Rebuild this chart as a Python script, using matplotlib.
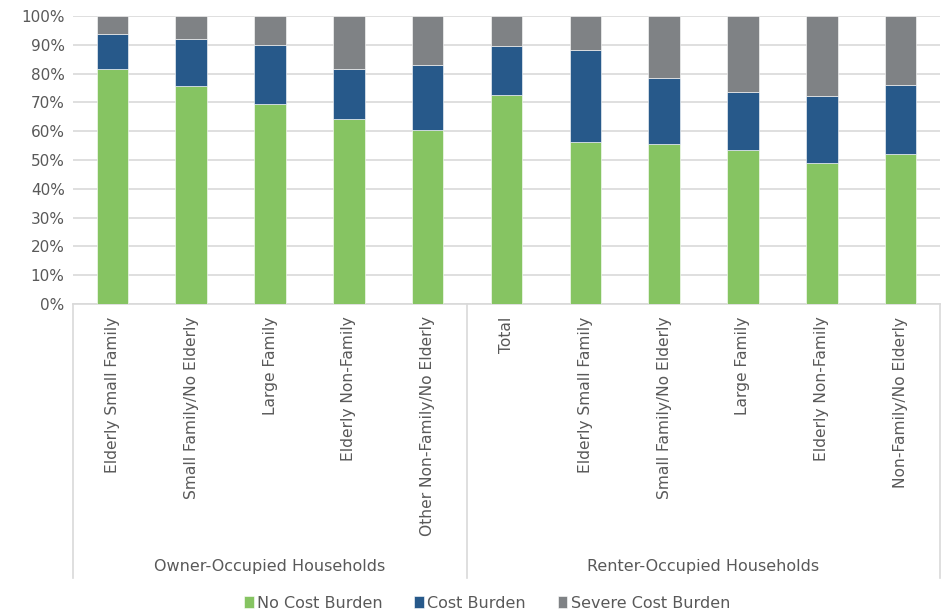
import matplotlib
matplotlib.use("Agg")
import matplotlib.pyplot as plt
import matplotlib.transforms as mtrans
from matplotlib.lines import Line2D
from matplotlib.ticker import FuncFormatter, MultipleLocator
import numpy as np

plt.rcParams["font.family"] = ["DejaVu Sans"]

# --- data ---
categories = [
    "Elderly Small Family", "Small Family/No Elderly", "Large Family",
    "Elderly Non-Family", "Other Non-Family/No Elderly",
    "Total", "Elderly Small Family", "Small Family/No Elderly", "Large Family",
    "Elderly Non-Family", "Non-Family/No Elderly",
]
groups      = ["Owner-Occupied Households", "Renter-Occupied Households"]
group_sizes = [5, 6]

no_cost = [81.7, 75.7, 69.3, 64.3, 60.3, 72.5, 56.2, 55.6, 53.4, 49.0, 52.2]
cost    = [12.0, 16.3, 20.6, 17.3, 22.7, 17.1, 32.0, 22.9, 20.3, 23.2, 23.8]
severe  = [6.3, 8.0, 10.1, 18.4, 17.0, 10.4, 11.8, 21.5, 26.3, 27.8, 24.0]

series_names  = ["No Cost Burden", "Cost Burden", "Severe Cost Burden"]
series_colors = ["#86C462", "#27598A", "#7F8285"]

TXT = "#595959"
GRID = "#D9D9D9"

fig = plt.figure(figsize=(9.44, 6.13), dpi=100)
W, H = 944, 613
ax = fig.add_axes([73 / W, (H - 304) / H, (940 - 73) / W, (304 - 16) / H])

x = np.arange(len(categories))
bottom = np.zeros(len(categories))
handles = []
for vals, name, col in zip([no_cost, cost, severe], series_names, series_colors):
    b = ax.bar(x, vals, width=0.4, bottom=bottom, color=col, label=name,
               edgecolor="white", linewidth=0.4, zorder=3)
    bottom += np.array(vals)
    handles.append(b)

ax.set_xlim(-0.5, len(categories) - 0.5)
ax.set_ylim(0, 100)
ax.yaxis.set_major_locator(MultipleLocator(10))
ax.yaxis.set_major_formatter(FuncFormatter(lambda v, _: f"{v:.0f}%"))
ax.grid(axis="y", color=GRID, linewidth=1.2, zorder=0)
ax.set_axisbelow(True)
for s in ["left", "right", "top"]:
    ax.spines[s].set_visible(False)
ax.spines["bottom"].set_color(GRID)
ax.spines["bottom"].set_linewidth(1.2)

ax.tick_params(axis="y", length=0, labelsize=11, labelcolor=TXT, pad=6)
ax.set_xticks(x)
ax.set_xticklabels(categories, rotation=90, va="top", ha="center",
                   fontsize=11.2, color=TXT)
ax.tick_params(axis="x", length=0, pad=9)

# group separators and labels below the axis
trans = mtrans.blended_transform_factory(ax.transData, ax.transAxes)
line_bottom = -(578 - 304) / 288
edges = [-0.5]
for n in group_sizes:
    edges.append(edges[-1] + n)
for e in edges:
    ax.add_line(Line2D([e, e], [0, line_bottom], transform=trans,
                       color=GRID, linewidth=1.2, clip_on=False))
for g, lo, hi in zip(groups, edges[:-1], edges[1:]):
    ax.text((lo + hi) / 2, -(567 - 304) / 288, g, transform=trans,
            ha="center", va="center", fontsize=11.5, color=TXT)

fig.legend(handles=handles, labels=series_names, loc="center",
           bbox_to_anchor=(487 / W, (H - 603) / H), ncol=3, frameon=False,
           fontsize=11.5, labelcolor=TXT, handlelength=0.6, handleheight=0.8,
           handletextpad=0.2, columnspacing=2.0)

fig.savefig("out.png", dpi=100)
